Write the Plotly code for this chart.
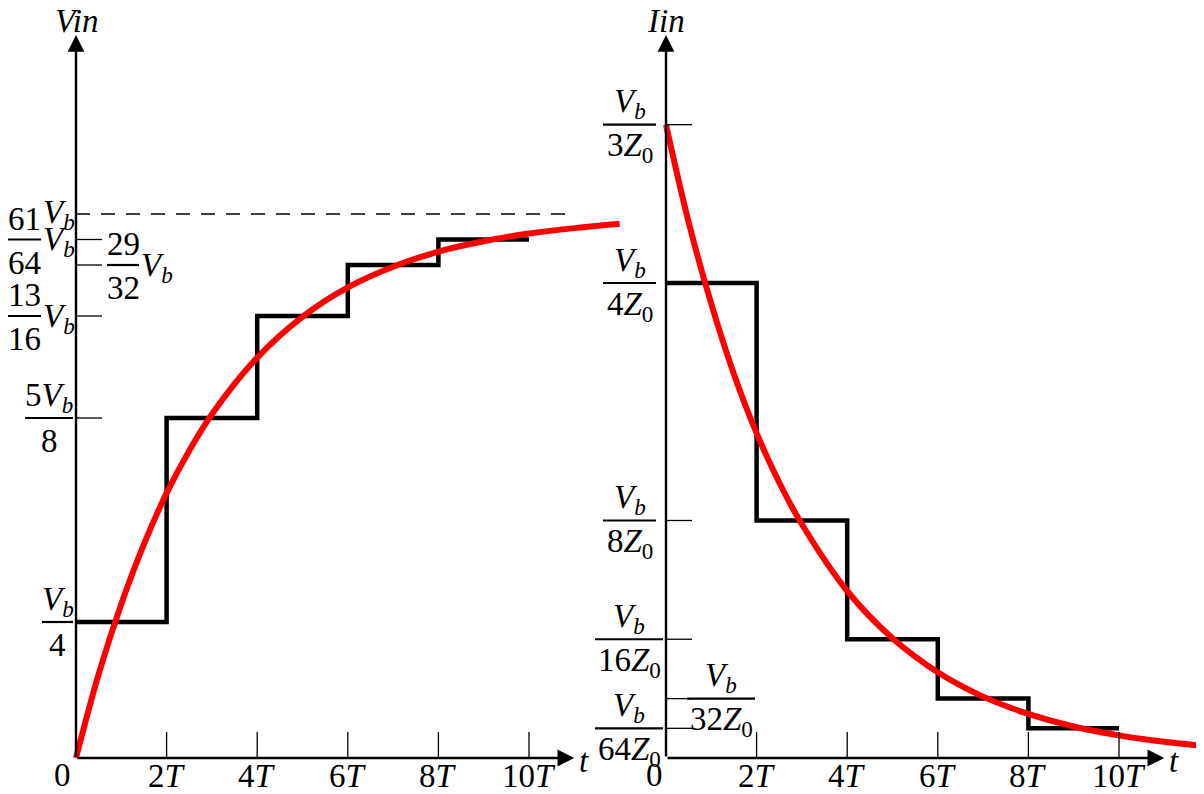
import plotly.graph_objects as go

# ---------------- data ----------------
t_steps = [0, 2, 4, 6, 8, 10]
vin_steps = [1/4, 5/8, 13/16, 29/32, 61/64, 61/64]
iin_steps = [1/4, 1/8, 1/16, 1/32, 1/64, 1/64]

t_curve = [0, 0.5, 1, 1.5, 2, 2.5, 3, 4, 5, 6, 7, 8, 9, 10, 11, 12]
vin_curve = [0, 0.154, 0.283, 0.393, 0.487, 0.565, 0.632, 0.736, 0.811, 0.865,
             0.903, 0.931, 0.950, 0.964, 0.974, 0.982]
iin_curve = [0.3333, 0.282, 0.239, 0.202, 0.171, 0.145, 0.123, 0.0879, 0.0630,
             0.0451, 0.0323, 0.0232, 0.0166, 0.0119, 0.0085, 0.0061]

x_ticks = [2, 4, 6, 8, 10]
x_tick_labels = ["2<i>T</i>", "4<i>T</i>", "6<i>T</i>", "8<i>T</i>", "10<i>T</i>"]
vin_ticks = [1/4, 5/8, 13/16, 29/32, 61/64]
vin_final = 1.0
iin_ticks = [1/3, 1/4, 1/8, 1/16, 1/32, 1/64]

t_axis_end = 11.0
vin_axis_end = 1.329
iin_axis_end = 0.3805

# ---------------- styling ----------------
FONT = '"Liberation Serif", "Times New Roman", serif'
FS = 33
VB = "<i>V<sub>b</sub></i>"
Z0 = "<i>Z</i><sub>0</sub>"

# page body has an 8px margin: the figure is drawn 8px in from the top-left
W, H = 1196, 786
PX_T = 45.3          # pixels per T
OX_L, OX_R, OY = 68, 658, 750
PX_V, PX_I = 544, 1900

fig = go.Figure()

fig.add_trace(go.Scatter(x=t_steps, y=vin_steps, mode="lines", line_shape="hv",
                         line=dict(color="black", width=4.5), xaxis="x", yaxis="y",
                         hoverinfo="skip"))
fig.add_trace(go.Scatter(x=t_curve, y=vin_curve, mode="lines", line_shape="spline",
                         line=dict(color="#ff0000", width=6), xaxis="x", yaxis="y",
                         hoverinfo="skip"))
fig.add_trace(go.Scatter(x=t_steps, y=iin_steps, mode="lines", line_shape="hv",
                         line=dict(color="black", width=4.5), xaxis="x2", yaxis="y2",
                         hoverinfo="skip"))
fig.add_trace(go.Scatter(x=t_curve, y=iin_curve, mode="lines", line_shape="spline",
                         line=dict(color="#ff0000", width=6), xaxis="x2", yaxis="y2",
                         hoverinfo="skip"))


def txt(text, x, y, xr, yr, dx=0, dy=0, size=FS):
    fig.add_annotation(text=text, x=x, y=y, xref=xr, yref=yr, xshift=dx, yshift=dy,
                       showarrow=False, xanchor="center", yanchor="middle",
                       font=dict(family=FONT, size=size, color="black"))


def hseg(xr, yr, x, y, p0, p1, w=1.3, dash=None):
    fig.add_shape(type="line", xref=xr, yref=yr, xsizemode="pixel", xanchor=x,
                  x0=p0, x1=p1, y0=y, y1=y,
                  line=dict(color="black", width=w, dash=dash))


def vtick(xr, yr, x, length=26, w=1.3):
    fig.add_shape(type="line", xref=xr, yref=yr, ysizemode="pixel", yanchor=0,
                  y0=0, y1=length, x0=x, x1=x, line=dict(color="black", width=w))


def arrow(xr, yr, x, y, ax, ay):
    fig.add_annotation(x=x, y=y, ax=ax, ay=ay, xref=xr, yref=yr, axref=xr, ayref=yr,
                       text="", showarrow=True, arrowhead=2, arrowsize=1.4,
                       arrowwidth=2.4, arrowcolor="black", standoff=0)


def frac(num, den, xr, yr, x, y, dx, width, nd=21, dd=-23):
    hseg(xr, yr, x, y, dx - width / 2, dx + width / 2, w=2.2)
    txt(num, x, y, xr, yr, dx=dx, dy=nd)
    txt(den, x, y, xr, yr, dx=dx, dy=dd)


for (xr, yr, yend, lab) in [("x", "y", vin_axis_end, "<i>Vin</i>"),
                            ("x2", "y2", iin_axis_end, "<i>Iin</i>")]:
    arrow(xr, yr, t_axis_end, 0, 0, 0)
    arrow(xr, yr, 0, yend, 0, 0)
    txt(lab, 0, yend, xr, yr, dy=14)
    txt("<i>t</i>", t_axis_end, 0, xr, yr, dx=10, dy=-3)
    for xt, xl in zip(x_ticks, x_tick_labels):
        vtick(xr, yr, xt)
        txt(xl, xt, 0, xr, yr, dy=-18)

txt("0", 0, 0, "x", "y", dx=-14, dy=-17)
txt("0", 0, 0, "x2", "y2", dx=-12, dy=-17)

# left y ticks and labels
for v in vin_ticks:
    hseg("x", "y", 0, v, 0, 26)
hseg("x", "y", 0, vin_final, 0, t_axis_end * PX_T, w=1.3, dash="14px,11px")
frac(VB, "4", "x", "y", 0, vin_ticks[0], -18.5, 31)
frac("5" + VB, "8", "x", "y", 0, vin_ticks[1], -27, 48)
frac("13", "16", "x", "y", 0, vin_ticks[2], -51.5, 33)
txt(VB, 0, vin_ticks[2], "x", "y", dx=-17, dy=-2)
frac("29", "32", "x", "y", 0, vin_ticks[3], 47, 32)
txt(VB, 0, vin_ticks[3], "x", "y", dx=81, dy=-2)
frac("61", "64", "x", "y", 0, vin_ticks[4], -51.5, 33)
txt(VB, 0, vin_ticks[4], "x", "y", dx=-17, dy=-2)
txt(VB, 0, vin_final, "x", "y", dx=-17, dy=0)

# right y ticks and labels
for i in iin_ticks:
    hseg("x2", "y2", 0, i, 0, 26)
frac(VB, "3" + Z0, "x2", "y2", 0, iin_ticks[0], -36.5, 53)
frac(VB, "4" + Z0, "x2", "y2", 0, iin_ticks[1], -36.5, 53)
frac(VB, "8" + Z0, "x2", "y2", 0, iin_ticks[2], -36.5, 53)
frac(VB, "16" + Z0, "x2", "y2", 0, iin_ticks[3], -37, 68)
frac(VB, "32" + Z0, "x2", "y2", 0, iin_ticks[4], 55, 68)
frac(VB, "64" + Z0, "x2", "y2", 0, iin_ticks[5], -37, 68)

fig.update_layout(
    width=W, height=H, margin=dict(l=0, r=0, t=0, b=0),
    paper_bgcolor="white", plot_bgcolor="white", showlegend=False,
    xaxis=dict(domain=[0, 1], range=[-OX_L / PX_T, (W - OX_L) / PX_T], visible=False,
               fixedrange=True),
    yaxis=dict(domain=[0, 1], range=[-(H - OY) / PX_V, OY / PX_V], visible=False,
               fixedrange=True),
    xaxis2=dict(domain=[0, 1], overlaying="x", anchor="y2",
                range=[-OX_R / PX_T, (W - OX_R) / PX_T], visible=False, fixedrange=True),
    yaxis2=dict(domain=[0, 1], overlaying="y", anchor="x2",
                range=[-(H - OY) / PX_I, OY / PX_I], visible=False, fixedrange=True),
)

fig.write_html("out.html")
